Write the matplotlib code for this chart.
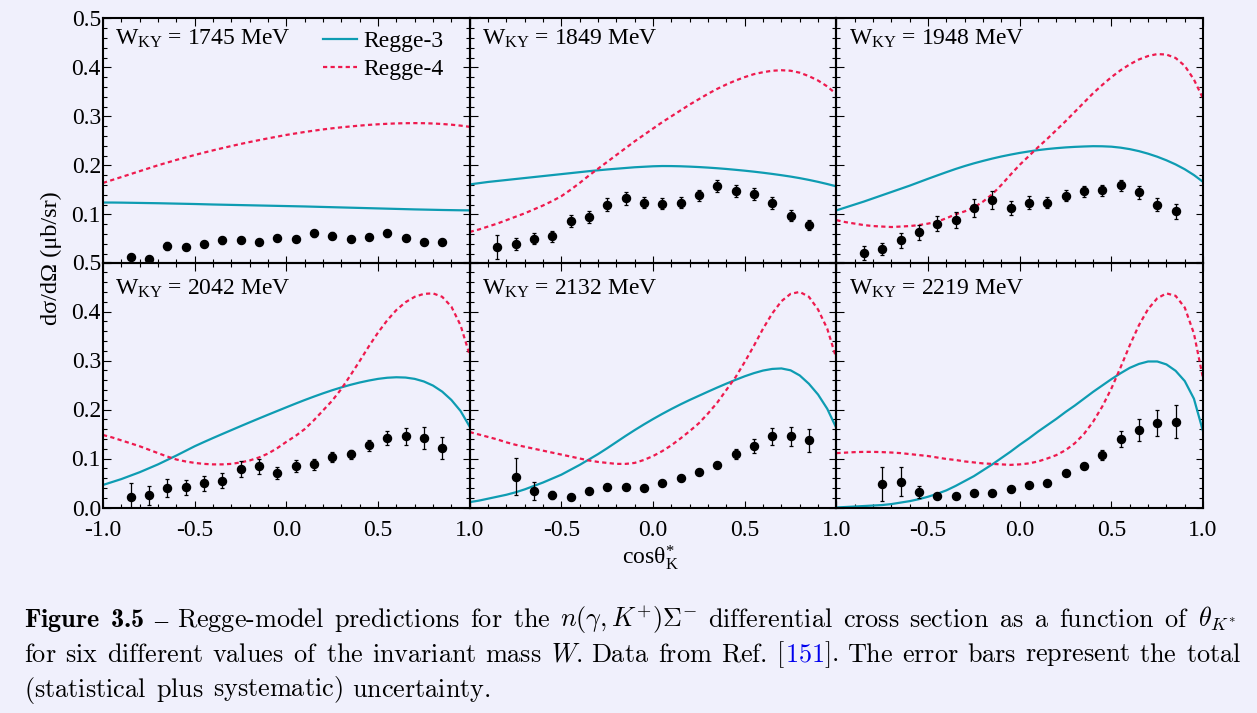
import numpy as np
import matplotlib
matplotlib.use("Agg")
import matplotlib.pyplot as plt
from matplotlib.ticker import MultipleLocator, FuncFormatter

# ---------------------------------------------------------------- data
W_VALUES = [1745, 1849, 1948, 2042, 2132, 2219]

COS_DATA = [-0.85, -0.75, -0.65, -0.55, -0.45, -0.35, -0.25, -0.15, -0.05,
            0.05, 0.15, 0.25, 0.35, 0.45, 0.55, 0.65, 0.75, 0.85]

D_1745 = [0.013, 0.0095, 0.035, 0.033, 0.039, 0.047, 0.047, 0.044, 0.052,
          0.050, 0.061, 0.056, 0.050, 0.053, 0.061, 0.051, 0.044, 0.044]
E_1745 = [0.006, 0.005, 0.008, 0.006, 0.006, 0.007, 0.006, 0.005, 0.006,
          0.005, 0.007, 0.007, 0.006, 0.006, 0.007, 0.006, 0.006, 0.006]

D_1849 = [0.033, 0.040, 0.050, 0.055, 0.086, 0.095, 0.120, 0.133, 0.124,
          0.122, 0.124, 0.139, 0.158, 0.148, 0.141, 0.123, 0.097, 0.078]
E_1849 = [0.024, 0.012, 0.011, 0.011, 0.012, 0.012, 0.013, 0.013, 0.012,
          0.011, 0.011, 0.011, 0.012, 0.012, 0.012, 0.012, 0.011, 0.011]

D_1948 = [0.021, 0.029, 0.047, 0.063, 0.081, 0.088, 0.113, 0.129, 0.113,
          0.124, 0.124, 0.138, 0.147, 0.149, 0.159, 0.145, 0.120, 0.106]
E_1948 = [0.014, 0.012, 0.015, 0.016, 0.016, 0.016, 0.019, 0.019, 0.014,
          0.013, 0.011, 0.011, 0.011, 0.011, 0.012, 0.013, 0.014, 0.015]

D_2042 = [0.021, 0.025, 0.040, 0.041, 0.049, 0.055, 0.078, 0.084, 0.071,
          0.084, 0.088, 0.103, 0.109, 0.127, 0.142, 0.145, 0.142, 0.121]
E_2042 = [0.029, 0.019, 0.019, 0.016, 0.016, 0.015, 0.016, 0.016, 0.012,
          0.012, 0.011, 0.010, 0.009, 0.011, 0.014, 0.018, 0.022, 0.022]

D_2132 = [None, 0.063, 0.034, 0.026, 0.021, 0.034, 0.041, 0.041, 0.040,
          0.050, 0.060, 0.073, 0.087, 0.109, 0.125, 0.145, 0.145, 0.137]
E_2132 = [None, 0.038, 0.019, 0.008, 0.005, 0.005, 0.005, 0.005, 0.005,
          0.005, 0.005, 0.005, 0.006, 0.010, 0.014, 0.018, 0.019, 0.023]

D_2219 = [None, 0.048, 0.053, 0.031, 0.024, 0.024, 0.030, 0.029, 0.037,
          0.046, 0.051, 0.071, 0.085, 0.107, 0.140, 0.158, 0.172, 0.175]
E_2219 = [None, 0.034, 0.029, 0.0125, 0.005, 0.005, 0.005, 0.005, 0.005,
          0.005, 0.005, 0.005, 0.006, 0.011, 0.017, 0.022, 0.027, 0.034]

COS_MODEL = [-1.00, -0.95, -0.90, -0.85, -0.80, -0.75, -0.70, -0.65, -0.60, -0.55,
             -0.50, -0.45, -0.40, -0.35, -0.30, -0.25, -0.20, -0.15, -0.10, -0.05,
             0.00, 0.05, 0.10, 0.15, 0.20, 0.25, 0.30, 0.35, 0.40, 0.45,
             0.50, 0.55, 0.60, 0.65, 0.70, 0.75, 0.80, 0.85, 0.90, 0.95, 1.00]

R3_1745 = [.124, .124, .1238, .1235, .1232, .1229, .1226, .1222, .1218, .1214,
           .1210, .1205, .1200, .1196, .1192, .1188, .1184, .1180, .1176, .1172,
           .1168, .1164, .1160, .1155, .1150, .1145, .1140, .1135, .1130, .1125,
           .1120, .1115, .1110, .1105, .1100, .1096, .1092, .1088, .1085, .1082, .1080]
R4_1745 = [.164, .170, .176, .182, .188, .194, .200, .2055, .211, .216,
           .221, .2258, .2305, .235, .2393, .2435, .2475, .2513, .255, .2585,
           .262, .265, .268, .2707, .2732, .2755, .2775, .2793, .281, .2825,
           .2837, .2847, .2855, .2859, .2861, .2859, .2853, .2843, .2829, .281, .2785]

R3_1849 = [.161, .1635, .166, .168, .170, .172, .174, .176, .178, .180,
           .182, .184, .186, .188, .1898, .1915, .193, .1945, .196, .197,
           .198, .1985, .1984, .198, .1973, .1964, .1953, .194, .1925, .1908,
           .189, .187, .1848, .1824, .1798, .177, .1738, .1702, .1662, .1618, .157]
R4_1849 = [.064, .069, .075, .081, .088, .095, .102, .110, .118, .127,
           .137, .150, .164, .179, .193, .207, .221, .235, .249, .262,
           .275, .288, .300, .312, .324, .335, .346, .356, .365, .373,
           .380, .386, .390, .393, .394, .393, .389, .382, .373, .361, .345]

R3_1948 = [.108, .114, .120, .126, .1325, .139, .1455, .152, .1585, .1655,
           .1725, .1793, .186, .1925, .1985, .204, .209, .2137, .218, .2218,
           .2253, .2283, .231, .2332, .235, .2365, .2376, .2384, .239, .2388,
           .238, .236, .233, .2289, .2237, .2175, .2102, .2018, .1919, .1801, .1661]
R4_1948 = [.088, .084, .081, .078, .076, .075, .074, .075, .076, .078,
           .081, .085, .092, .100, .106, .114, .126, .141, .160, .181,
           .201, .219, .237, .254, .272, .290, .309, .328, .347, .364,
           .380, .394, .406, .416, .423, .427, .426, .419, .403, .375, .336]

R3_2042 = [.046, .052, .058, .065, .072, .080, .088, .097, .106, .1155,
           .125, .1335, .1418, .1499, .1579, .1659, .1738, .1816, .1893, .1969,
           .2045, .212, .2193, .2263, .233, .2393, .2451, .2504, .2551, .2591,
           .2625, .2648, .2658, .2652, .2625, .2572, .2488, .2365, .2195, .197, .165]
R4_2042 = [.148, .143, .137, .131, .125, .118, .111, .104, .098, .094,
           .091, .089, .088, .088, .089, .092, .096, .102, .110, .121,
           .134, .146, .160, .178, .198, .218, .242, .270, .299, .329,
           .357, .382, .403, .419, .430, .436, .437, .430, .410, .372, .311]

R3_2132 = [.011, .014, .018, .022, .026, .031, .037, .044, .051, .059,
           .067, .077, .087, .098, .109, .121, .1335, .146, .158, .1695,
           .1805, .191, .201, .2105, .2195, .228, .2365, .2448, .2528, .2605,
           .2678, .2742, .2795, .2828, .2838, .2800, .2695, .2525, .2305, .2015, .162]
R4_2132 = [.154, .149, .144, .139, .133, .128, .124, .120, .116, .112,
           .108, .104, .100, .096, .093, .091, .089, .089, .091, .097,
           .105, .115, .127, .141, .156, .172, .192, .214, .240, .266,
           .297, .330, .365, .396, .421, .436, .440, .430, .404, .365, .304]

R3_2219 = [.000, .001, .002, .003, .004, .005, .007, .010, .013, .017,
           .022, .028, .035, .044, .054, .064, .076, .088, .101, .114,
           .128, .141, .155, .168, .181, .195, .208, .222, .236, .249,
           .262, .274, .285, .293, .298, .298, .292, .279, .258, .222, .155]
R4_2219 = [.111, .112, .113, .1135, .1135, .113, .1122, .111, .109, .107,
           .105, .102, .099, .097, .094, .092, .090, .089, .088, .087,
           .088, .090, .094, .100, .107, .117, .131, .150, .175, .206,
           .243, .286, .331, .372, .405, .427, .437, .432, .408, .355, .263]

DATA = [D_1745, D_1849, D_1948, D_2042, D_2132, D_2219]
ERRS = [E_1745, E_1849, E_1948, E_2042, E_2132, E_2219]
REGGE3 = [R3_1745, R3_1849, R3_1948, R3_2042, R3_2132, R3_2219]
REGGE4 = [R4_1745, R4_1849, R4_1948, R4_2042, R4_2132, R4_2219]

# ---------------------------------------------------------------- style
plt.rcParams["font.family"] = "Liberation Serif"
plt.rcParams["mathtext.fontset"] = "custom"
plt.rcParams["mathtext.rm"] = "Liberation Serif"
plt.rcParams["mathtext.it"] = "Liberation Serif:italic"
plt.rcParams["mathtext.bf"] = "Liberation Serif:bold"

BG = "#f0f0fc"
CYAN = "#0e9cb2"
RED = "#ee1a4e"
FW, FH = 1257, 713
FS = 17

fig = plt.figure(figsize=(FW / 100, FH / 100), dpi=100, facecolor=BG)

COL_LEFT = [103.0, 469.7, 836.4]
ROW_TOP = [18.3, 262.5]
PW, PH = 366.7, 245.0

axes = []
for i in range(6):
    r, c = divmod(i, 3)
    left = COL_LEFT[c] / FW
    bottom = 1 - (ROW_TOP[r] + PH) / FH
    ax = fig.add_axes([left, bottom, PW / FW, PH / FH])
    ax.set_facecolor("none")
    axes.append(ax)

for i, ax in enumerate(axes):
    r, c = divmod(i, 3)
    l3, = ax.plot(COS_MODEL, REGGE3[i], color=CYAN, lw=1.6, zorder=2)
    l4, = ax.plot(COS_MODEL, REGGE4[i], color=RED, lw=1.6,
                  linestyle=(0, (1.9, 1.5)), zorder=2)
    y = np.array(DATA[i], dtype=float)
    e = np.array(ERRS[i], dtype=float)
    ax.errorbar(COS_DATA, y, yerr=e, fmt="o", color="black", ms=5.8,
                elinewidth=0.9, capsize=1.6, capthick=0.9, zorder=3)

    ax.set_xlim(-1, 1)
    ax.set_ylim(0, 0.5)
    ax.xaxis.set_major_locator(MultipleLocator(0.5))
    ax.xaxis.set_minor_locator(MultipleLocator(0.1))
    ax.yaxis.set_major_locator(MultipleLocator(0.1))
    ax.yaxis.set_minor_locator(MultipleLocator(0.02))
    ax.tick_params(which="both", direction="in", top=True, right=True,
                   width=0.8, labelsize=FS, colors="black")
    ax.tick_params(which="major", length=5.4)
    ax.tick_params(which="minor", length=3.0)
    ax.tick_params(axis="x", pad=9.0)
    ax.tick_params(axis="y", pad=1.5)
    for sp in ax.spines.values():
        sp.set_linewidth(1.5)

    if c == 0:
        if r == 0:
            ax.yaxis.set_major_formatter(
                FuncFormatter(lambda v, p: "" if abs(v) < 1e-9 else f"{v:.1f}"))
        else:
            ax.yaxis.set_major_formatter(FuncFormatter(lambda v, p: f"{v:.1f}"))
    else:
        ax.tick_params(axis="y", labelleft=False)

    if r == 1:
        if c == 0:
            ax.xaxis.set_major_formatter(FuncFormatter(lambda v, p: f"{v:.1f}"))
        else:
            ax.xaxis.set_major_formatter(
                FuncFormatter(lambda v, p: "" if v < -0.99 else f"{v:.1f}"))
    else:
        ax.tick_params(axis="x", labelbottom=False)

    label_y = 0.892 if r == 0 else 0.869
    ax.text(0.033, label_y, r"W$_{\mathrm{KY}}$ = %d MeV" % W_VALUES[i],
            transform=ax.transAxes, fontsize=FS, ha="left", va="baseline")

    if i == 0:
        ax.legend([l3, l4], ["Regge-3", "Regge-4"], loc="upper left",
                  bbox_to_anchor=(0.600, 0.950), frameon=False, fontsize=FS,
                  handlelength=1.45, handletextpad=0.26, labelspacing=0.28,
                  borderpad=0, borderaxespad=0)

fig.text(51 / FW, 1 - 258 / FH, "dσ/dΩ (μb/sr)", rotation=90,
         ha="center", va="center", fontsize=17.5)
fig.text(650 / FW, 1 - 564 / FH, r"cos$\mathrm{θ}^{*}_{\mathrm{K}}$",
         ha="center", va="baseline", fontsize=FS)

# ---------------------------------------------------------------- caption
# Every caption word goes through mathtext ("${}$" prefix) so that the
# Computer Modern glyphs are laid out with their true metrics.
renderer = fig.canvas.get_renderer()
GAP_EM = 0.36
LINK = {"color": "#0000ee"}
BOLD = {"family": "cmb10"}
DASH = {"family": "Liberation Serif"}


def cap_kw(size, extra):
    kw = dict(fontsize=size, family="cmr10", math_fontfamily="cm",
              ha="left", va="baseline", color="black")
    kw.update(extra)
    return kw


def plain(*words):
    return [[(r"${}$" + w, {})] for w in words]


def make_words(words, size, y_px):
    placed = []
    for word in words:
        segs = []
        for s, extra in word:
            t = fig.text(0, 1 - y_px / FH, s, **cap_kw(size, extra))
            segs.append((t, t.get_window_extent(renderer).width))
        placed.append(segs)
    return placed


def natural_width(words, size):
    placed = make_words(words, size, 0)
    total = sum(w for segs in placed for _, w in segs)
    for segs in placed:
        for t, _ in segs:
            t.remove()
    return total + (len(words) - 1) * GAP_EM * size * 100 / 72


def set_line(words, size, y_px, x0, x1=None):
    placed = make_words(words, size, y_px)
    widths = [sum(w for _, w in segs) for segs in placed]
    if x1 is None:
        gap = GAP_EM * size * 100 / 72
    else:
        gap = (x1 - x0 - sum(widths)) / (len(words) - 1)
    x = x0
    for segs, ww in zip(placed, widths):
        xx = x
        for t, w in segs:
            t.set_x(xx / FW)
            xx += w
        x += ww + gap


line1 = ([[(r"$\mathbf{Figure}$", {})], [(r"${}$3.5", BOLD)],
          [("–", DASH)]]
         + plain("Regge-model", "predictions", "for", "the")
         + [[(r"$n(\gamma,K^{+})\Sigma^{-}$", {})]]
         + plain("differential", "cross", "section", "as", "a", "function", "of")
         + [[(r"$\theta_{K^{*}}$", {})]])
line2 = (plain("for", "six", "different", "values", "of", "the", "invariant",
               "mass")
         + [[(r"$W$.", {})]]
         + plain("Data", "from", "Ref.")
         + [[(r"${}$[", {}), (r"${}$151", LINK), (r"${}$].", {})]]
         + plain("The", "error", "bars", "represent", "the", "total"))
line3 = plain("(statistical", "plus", "systematic)", "uncertainty.")

S0 = 15.0
CAP_SIZE = S0 * (1236 - 24) / natural_width(line1, S0)

set_line(line1, CAP_SIZE, 626.7, 24, 1236)
set_line(line2, CAP_SIZE, 661.5, 24, 1241)
set_line(line3, CAP_SIZE, 696.5, 24)

fig.savefig("out.png", dpi=100, facecolor=BG)
